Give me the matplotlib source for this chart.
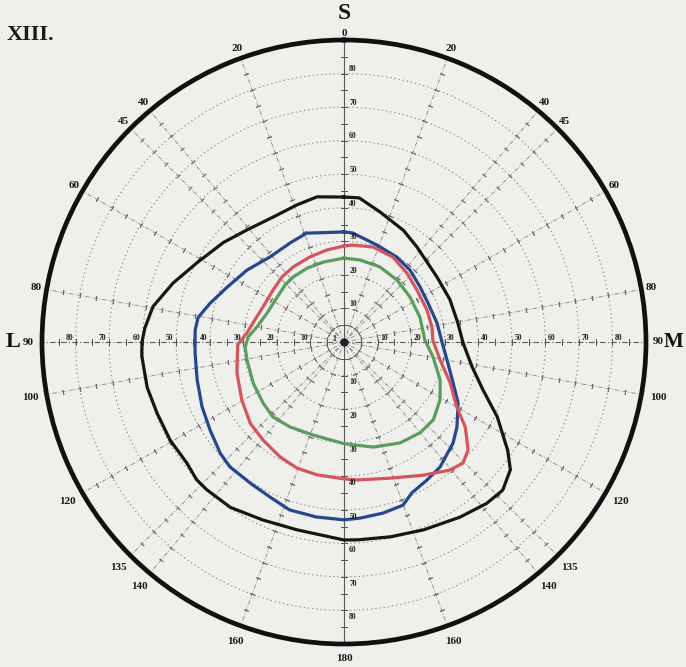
import numpy as np
import matplotlib
matplotlib.use("Agg")
import matplotlib.pyplot as plt

# visual field outlines: (meridian angle in degrees clockwise from S, eccentricity in degrees)
black_theta = [0, 6, 15.5, 28, 37.5, 55, 68, 80.5, 90.5, 101, 109, 116, 123.5, 127.5, 133, 138.5,
               146.5, 157, 166.5, 176, 180, 194, 204.5, 214.5, 223, 227, 232.5, 240.5, 249, 257,
               266, 270, 274, 280.5, 289, 298.5, 309.5, 319, 330.5, 341, 349.5]
black_r = [43.2, 43.2, 40.2, 37.7, 35.7, 33.8, 34.0, 34.4, 35.5, 38.9, 43.8, 50.8, 58.5, 62.5, 64.7, 64.2,
           62.6, 60.8, 59.7, 59.1, 59.0, 57.7, 58.3, 59.8, 60.1, 60.1, 59.1, 59.5, 59.6, 60.2,
           60.4, 60.2, 59.5, 57.9, 53.9, 49.7, 46.6, 44.2, 42.8, 43.2, 44.0]

blue_theta = [0, 4.5, 19, 32, 42.5, 54, 65, 78.5, 90, 100, 110.5, 118, 126.9, 132.8, 142.5, 149,
              155.8, 160.1, 167.2, 174.8, 180, 189, 198, 205.5, 213.5, 222.5, 228, 236.5, 245.5,
              255.5, 266, 274.5, 279.5, 286, 295, 306.5, 319, 331.5, 341]
blue_r = [32.8, 32.6, 30.5, 29.8, 29.1, 28.0, 27.6, 28.3, 29.2, 31.2, 34.7, 38.5, 42.1, 44.3, 47.0, 48.0,
          49.3, 51.7, 52.3, 52.7, 53.0, 52.8, 52.6, 51.2, 50.5, 50.4, 49.6, 47.8, 46.5,
          45.2, 44.5, 44.5, 44.1, 41.6, 38.5, 36.0, 33.6, 33.6, 34.3]

red_theta = [0, 5, 17, 30, 42.5, 54.5, 69, 80.5, 89, 100.5, 111, 120, 125, 131, 135.5, 140.5,
             149.5, 161.5, 174.5, 180, 191.5, 200.5, 209, 219.5, 229, 240.5, 254, 268.5, 275.5,
             282, 293.5, 306, 316.5, 326, 338, 349.5]
red_r = [28.6, 29.0, 29.6, 29.2, 27.8, 26.7, 26.5, 26.6, 26.5, 29.1, 33.9, 38.8, 44.1, 49.0, 50.6, 49.5,
         46.1, 42.8, 41.3, 40.8, 40.4, 40.1, 39.2, 37.9, 37.0, 35.0, 33.2, 31.7, 29.0,
         27.7, 26.3, 26.2, 26.8, 27.0, 27.3, 27.9]

green_theta = [0, 11, 25.5, 40.5, 55.5, 72, 88.5, 99.5, 111.5, 121, 131, 140, 151, 164.5, 180,
               198.5, 212.5, 223.5, 233, 245.5, 259.5, 267, 273, 280, 290.5, 304, 314, 322,
               333.5, 345.5]
green_r = [25.0, 24.9, 24.8, 24.3, 23.8, 23.8, 24.1, 26.9, 30.8, 33.4, 35.3, 35.3, 34.4, 32.5, 30.3,
           29.2, 30.0, 30.8, 30.2, 29.7, 29.4, 29.5, 28.6, 26.3, 24.5, 24.0, 24.4, 24.6,
           24.6, 24.6]

# meridians drawn on the chart and their labels
meridians = [20, 40, 45, 60, 80, 100, 120, 135, 140, 160]
meridian_labels = ["20", "40", "45", "60", "80", "100", "120", "135", "140", "160"]
rings = [10, 20, 30, 40, 50, 60, 70, 80]
ring_labels = ["10", "20", "30", "40", "50", "60", "70", "80"]

bg = "#efefec"
serif = "Liberation Serif"

fig = plt.figure(figsize=(6.86, 6.67), dpi=100, facecolor=bg)
ax = fig.add_axes([42 / 686, 23 / 667, 604 / 686, 604 / 667], projection="polar")
ax.set_facecolor(bg)
ax.set_theta_zero_location("N")
ax.set_theta_direction(-1)
ax.set_ylim(0, 90)
ax.set_xticks([])
ax.set_yticks([])
ax.grid(False)
ax.spines["polar"].set_linewidth(3.4)
ax.spines["polar"].set_color("#111111")

# dotted isopter rings
circ = np.linspace(0, 2 * np.pi, 361)
for r in rings:
    ax.plot(circ, np.full_like(circ, r), color="#8a8a8a", lw=0.8,
            linestyle=(0, (1.2, 2.6)), zorder=1)

# oblique meridians, dash-dot with small cross ticks
tick_r = np.arange(5, 90, 5)
for m in meridians:
    for th in (m, 360 - m):
        t = np.radians(th)
        ax.plot([t, t], [0, 90], color="#808080", lw=0.6,
                linestyle=(0, (5, 2, 1, 2)), zorder=1)
        ax.plot(np.full_like(tick_r, t, dtype=float), tick_r, linestyle="none",
                marker=(2, 2, 90 - th), markersize=3.5, mew=0.6, color="#707070", zorder=1)

# main axes: vertical solid, horizontal dash-dot
for th, ls in ((0, "-"), (180, "-"), (90, (0, (5, 2, 1, 2))), (270, (0, (5, 2, 1, 2)))):
    t = np.radians(th)
    ax.plot([t, t], [0, 90], color="#5a5a5a", lw=0.8, linestyle=ls, zorder=1)
    ax.plot(np.full_like(tick_r, t, dtype=float), tick_r, linestyle="none",
            marker=(2, 2, 90 - th), markersize=4, mew=0.7, color="#555555", zorder=1)

# dark knot where all meridians meet
ax.plot([0], [0], marker="o", markersize=5, color="#222222", zorder=2)

# field outlines
for th, rr, col in ((black_theta, black_r, "#161616"), (blue_theta, blue_r, "#27468c"),
                    (red_theta, red_r, "#d4555d"), (green_theta, green_r, "#5a9d5c")):
    t = np.radians(th + th[:1])
    ax.plot(t, rr + rr[:1], color=col, lw=2.3, solid_joinstyle="round", zorder=3)

small = dict(family=serif, weight="bold", fontsize=5.5, color="#222222",
             ha="center", va="center", zorder=4)
for r, s in zip(rings, ring_labels):
    ax.annotate(s, xy=(0, r), xytext=(6.5, 3), textcoords="offset points", **small)
    ax.annotate(s, xy=(np.pi, r), xytext=(6.5, -5), textcoords="offset points", **small)
    ax.annotate(s, xy=(np.radians(270), r), xytext=(-4.5, 3), textcoords="offset points", **small)
    ax.annotate(s, xy=(np.radians(90), r), xytext=(4.5, 3), textcoords="offset points", **small)
ax.annotate("1", xy=(np.radians(270), 3), xytext=(0, 2), textcoords="offset points", **small)

big = dict(family=serif, weight="bold", fontsize=8, color="#1a1a1a",
           ha="center", va="center", clip_on=False)
for m, s in zip(meridians, meridian_labels):
    rr = 95 if len(s) == 3 else 93
    ax.text(np.radians(m), rr, s, **big)
    ax.text(np.radians(360 - m), rr, s, **big)
ax.text(0, 92, "0", **big)
ax.text(np.pi, 94.2, "180", **big)
ax.text(np.radians(90), 93.6, "90", **big)
ax.text(np.radians(270), 94.2, "90", **big)

ax.text(0, 97.8, "S", family=serif, weight="bold", fontsize=17, ha="center", va="center",
        clip_on=False, color="#111111")
ax.text(np.radians(270), 98.6, "L", family=serif, weight="bold", fontsize=16, ha="center",
        va="center", clip_on=False, color="#111111")
ax.text(np.radians(90), 98.3, "M", family=serif, weight="bold", fontsize=15, ha="center",
        va="center", clip_on=False, color="#111111")

fig.text(7 / 686, 1 - 35 / 667, "XIII.", family=serif, weight="bold", fontsize=16,
         ha="left", va="center", color="#1a1a1a")

fig.savefig("out.png", dpi=100, facecolor=bg)
